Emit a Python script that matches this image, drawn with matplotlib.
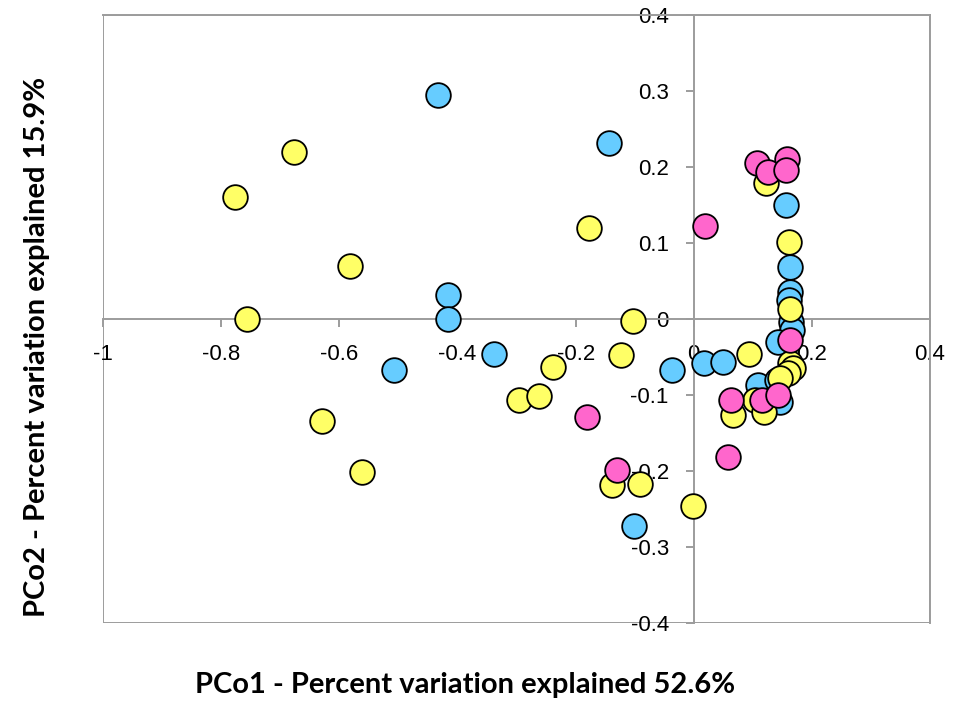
import matplotlib
matplotlib.use("Agg")
import matplotlib.pyplot as plt
from matplotlib.patches import Rectangle
import numpy as np

# PCo scores, one list per group
blue_x = [-0.433, -0.144, -0.416, -0.416, -0.338, -0.508, -0.037, 0.017, 0.049, -0.101,
          0.156, 0.163, 0.163, 0.161, 0.165, 0.166, 0.143, 0.109, 0.141, 0.146]
blue_y = [0.295, 0.232, 0.032, 0.000, -0.046, -0.067, -0.067, -0.058, -0.056, -0.272,
          0.150, 0.069, 0.036, 0.025, -0.004, -0.014, -0.030, -0.087, -0.080, -0.109]

yellow_x = [-0.777, -0.677, -0.582, -0.757, -0.630, -0.562, -0.177, -0.103, -0.123, -0.238,
            -0.296, -0.262, -0.138, -0.091, -0.001, 0.093, 0.122, 0.161, 0.163, 0.163,
            0.168, 0.160, 0.146, 0.104, 0.067, 0.119]
yellow_y = [0.161, 0.220, 0.070, 0.000, -0.134, -0.201, 0.120, -0.002, -0.047, -0.063,
            -0.106, -0.101, -0.218, -0.217, -0.246, -0.046, 0.179, 0.102, 0.013, -0.058,
            -0.064, -0.071, -0.077, -0.106, -0.126, -0.122]

pink_x = [0.019, 0.107, 0.158, 0.126, 0.156, 0.163, -0.181, -0.130, 0.058, 0.063, 0.115, 0.143]
pink_y = [0.123, 0.205, 0.210, 0.194, 0.196, -0.027, -0.129, -0.198, -0.181, -0.106, -0.106, -0.100]

x_ticks = [-1, -0.8, -0.6, -0.4, -0.2, 0, 0.2, 0.4]
y_ticks = [-0.4, -0.3, -0.2, -0.1, 0, 0.1, 0.2, 0.3, 0.4]

gray = "#9C9C9C"

fig = plt.figure(figsize=(9.62, 7.02), dpi=100)
ax = fig.add_axes([103.3 / 962, 1 - 623.3 / 702, (930 - 103.3) / 962, (623.3 - 15) / 702])

for xs, ys, col in [(blue_x, blue_y, "#66CCFF"),
                    (yellow_x, yellow_y, "#FFFF66"),
                    (pink_x, pink_y, "#FF66CC")]:
    ax.scatter(xs, ys, s=315, c=col, edgecolors="black", linewidths=1.3, zorder=3, clip_on=False)

ax.set_xlim(-1, 0.4)
ax.set_ylim(-0.4, 0.4)

# axes cross at zero, plot area border drawn separately
ax.spines["left"].set_position(("data", 0))
ax.spines["bottom"].set_position(("data", 0))
for s in ["left", "bottom", "top", "right"]:
    ax.spines[s].set_color(gray)
    ax.spines[s].set_linewidth(1.4)
ax.add_patch(Rectangle((0, 0), 1, 1, transform=ax.transAxes, fill=False,
                       edgecolor=gray, linewidth=1.4, zorder=1))

def fmt(v):
    return ("%g" % round(v, 2))

ax.set_xticks(x_ticks)
ax.set_xticklabels([fmt(v) for v in x_ticks])
ax.set_yticks(y_ticks)
ax.set_yticklabels([fmt(v) for v in y_ticks])
ax.tick_params(axis="both", direction="out", length=6, width=1.4, color=gray,
               labelsize=16, pad=12)
for lbl in ax.get_xticklabels() + ax.get_yticklabels():
    lbl.set_fontfamily("Liberation Sans")

fig.text(465 / 962, 1 - 685 / 702, "PCo1 - Percent variation explained 52.6%",
         ha="center", va="center", fontsize=21, fontweight="bold", family="Lato")
fig.text(37 / 962, 1 - 347 / 702, "PCo2 - Percent variation explained 15.9%",
         ha="center", va="center", rotation=90, fontsize=21, fontweight="bold", family="Lato")

fig.savefig("out.png", dpi=100)
